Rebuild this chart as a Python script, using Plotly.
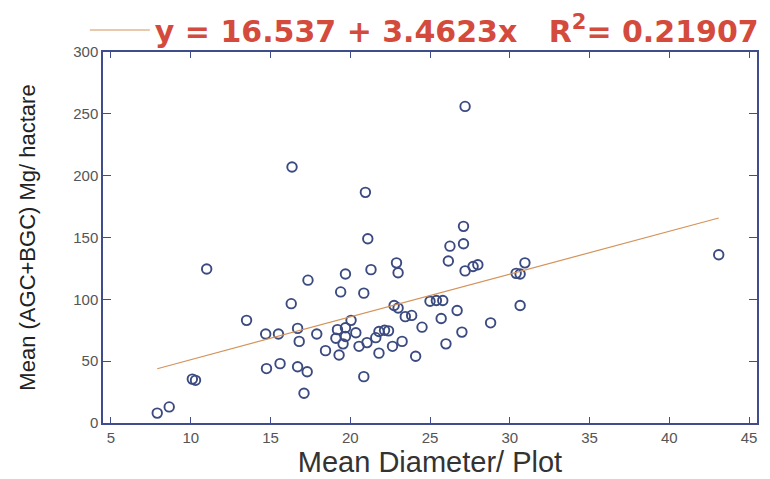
import plotly.graph_objects as go

# Data
diameter = [7.9, 8.65, 10.1, 10.3, 11.0, 13.5, 14.7, 15.5, 14.75, 15.6, 16.35, 16.3, 16.7, 16.8,
            16.7, 17.3, 17.1, 17.35, 17.9, 18.45, 19.4, 19.7, 19.2, 19.7, 20.05, 19.1, 19.7, 20.35,
            19.55, 19.3, 20.55, 21.05, 20.85, 20.95, 21.1, 20.85, 21.3, 21.8, 22.15, 22.4, 21.6,
            21.8, 22.65, 23.25, 22.9, 23.0, 22.75, 23.0, 23.45, 23.85, 24.1, 24.5, 25.0, 25.4,
            25.8, 25.7, 26.15, 26.0, 26.25, 27.1, 27.1, 27.2, 26.7, 27.0, 27.2, 27.7, 28.0, 28.8,
            30.4, 30.65, 30.95, 30.65, 43.1]
carbon = [8, 13, 35.5, 34.5, 124.5, 83, 72, 72, 44, 48, 207, 96.5, 76.5, 66, 45.5, 41.5, 24,
          115.5, 72, 58.5, 106, 120.5, 75.5, 77, 83, 68.5, 70, 73, 64, 55, 62, 65, 105, 186.5,
          149, 37.5, 124, 74, 75, 74.5, 69, 56.5, 62, 66, 129.5, 121.5, 95, 93, 86, 87, 54, 77.5,
          98.5, 99, 99, 84.5, 131, 64, 143, 145, 159, 256, 91, 73.5, 123, 126.5, 128, 81, 121,
          120.5, 129.5, 95, 136]

intercept = 16.537
slope = 3.4623
r_squared = 0.21907

x_ticks = [5, 10, 15, 20, 25, 30, 35, 40, 45]
y_ticks = [0, 50, 100, 150, 200, 250, 300]

fit_x = [min(diameter), max(diameter)]
fit_y = [intercept + slope * v for v in fit_x]

NBSP = "\u00a0"
legend_label = (f"y{NBSP}={NBSP}{intercept}{NBSP}+{NBSP}{slope}x{NBSP*3}"
                f"R<sup>2</sup>={NBSP}{r_squared}")

axis_col = "#3f4d8c"
plot_h = 479 - 52 - 56
plot_w = 770 - 103 - 13

fig = go.Figure()
fig.add_trace(go.Scatter(
    x=diameter, y=carbon, mode="markers", showlegend=False,
    marker=dict(symbol="circle-open", size=9.5, color="#3b4a80", line=dict(width=1.9)),
))
fig.add_trace(go.Scatter(
    x=fit_x, y=fit_y, mode="lines", name=legend_label,
    line=dict(color="#d4935a", width=1.2),
))

fig.update_layout(
    width=770, height=479,
    margin=dict(l=103, r=13, t=52, b=56, autoexpand=False),
    paper_bgcolor="white", plot_bgcolor="white",
    showlegend=True,
    legend=dict(
        x=-0.04 + 8 / plot_w, xanchor="left", y=1.0 + 48 / plot_h, yanchor="top",
        font=dict(family="DejaVu Sans", size=30, color="#d44a3c", weight="bold"),
        itemwidth=60, bgcolor="rgba(0,0,0,0)", borderwidth=0,
    ),
    xaxis=dict(
        range=[4.5, 45.5], tickvals=x_ticks, ticktext=[str(v) for v in x_ticks],
        ticks="inside", ticklen=6, tickcolor=axis_col, showgrid=False, zeroline=False,
        showline=True, linecolor=axis_col, linewidth=1.5, mirror="ticks",
        tickfont=dict(family="Liberation Sans", size=15, color="#555555"),
        title=dict(text="Mean Diameter/ Plot", standoff=2,
                   font=dict(family="Liberation Sans", size=29, color="#333333")),
    ),
    yaxis=dict(
        range=[0, 300], tickvals=y_ticks, ticktext=[str(v) for v in y_ticks],
        ticks="inside", ticklen=8, tickcolor=axis_col, showgrid=False, zeroline=False,
        showline=True, linecolor=axis_col, linewidth=1.5, mirror="ticks",
        tickfont=dict(family="Liberation Sans", size=15, color="#555555"),
        title=dict(text="Mean (AGC+BGC) Mg/ hactare", standoff=32,
                   font=dict(family="Liberation Sans", size=22, color="#222222")),
    ),
)

fig.write_html("out.html", config={"displayModeBar": False},
               post_script="document.body.style.margin='0';")
